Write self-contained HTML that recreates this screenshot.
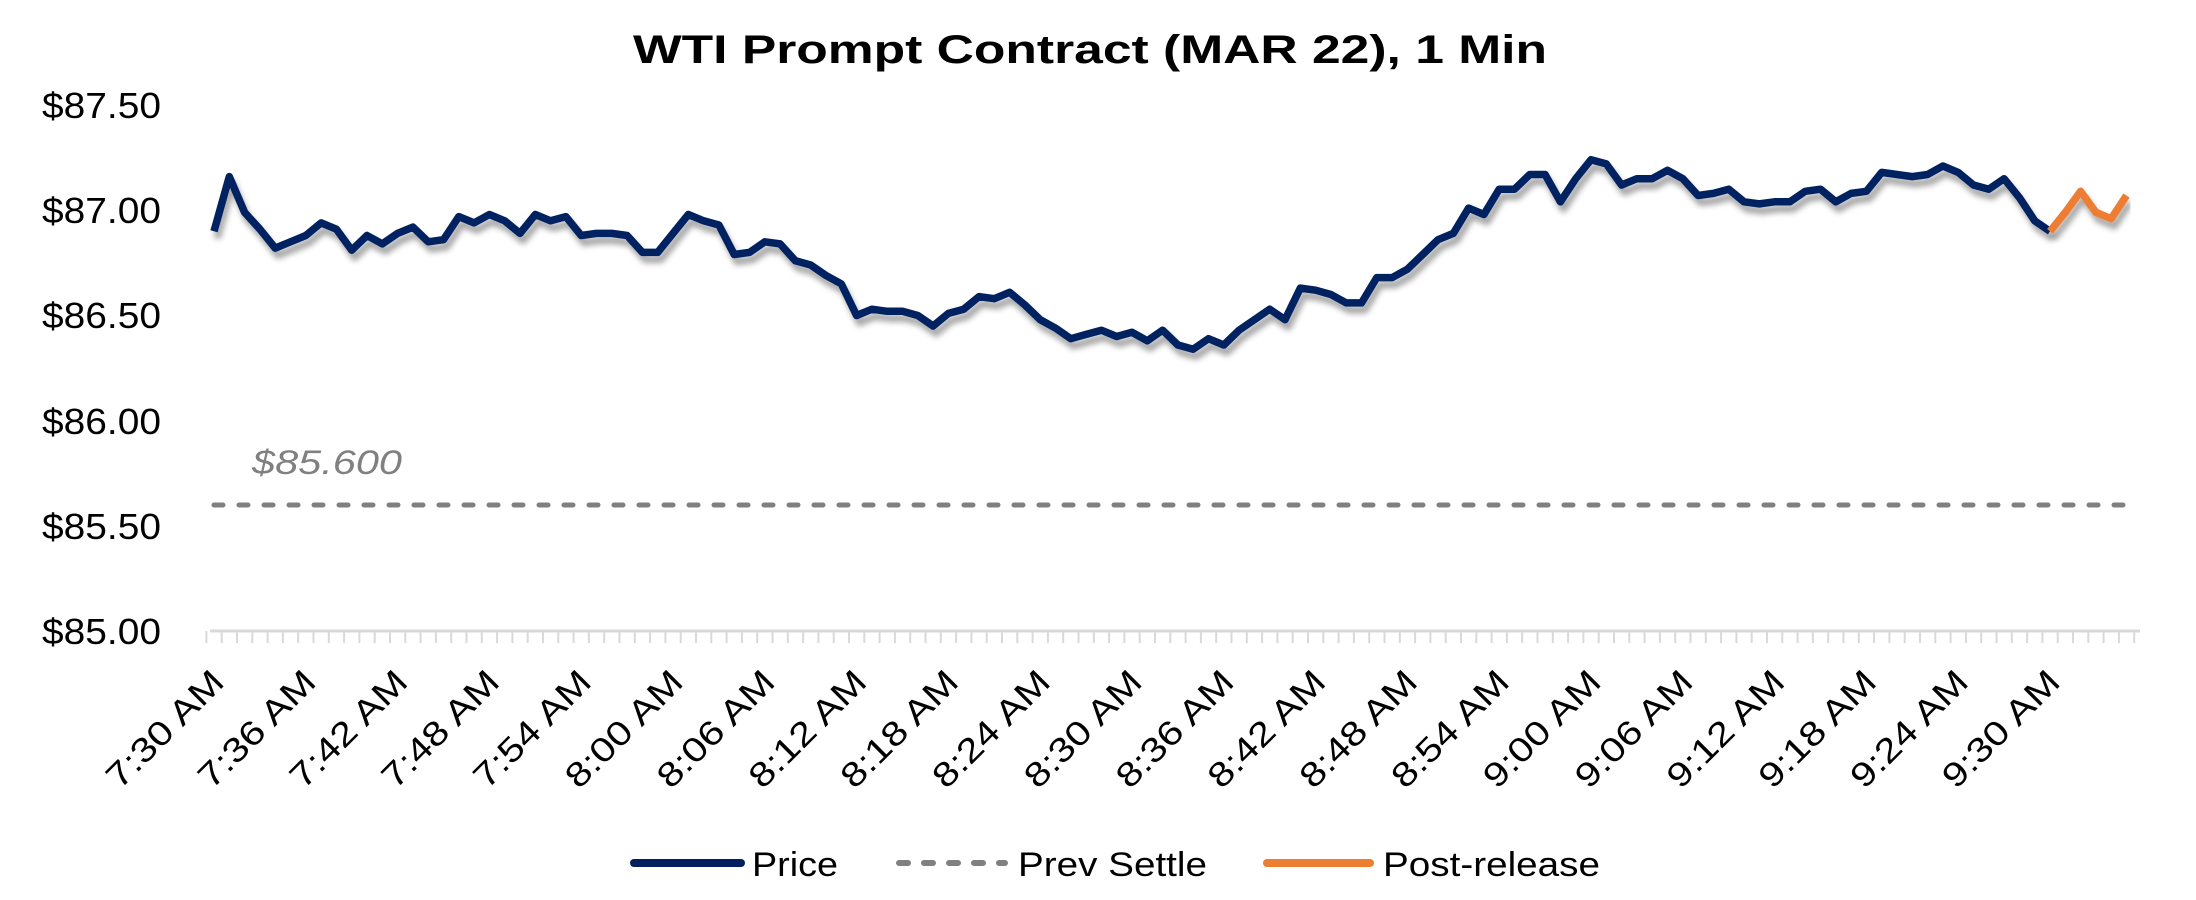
<!DOCTYPE html>
<html><head><meta charset="utf-8"><style>
html,body{margin:0;padding:0;background:#fff;width:2196px;height:900px;overflow:hidden}
svg{display:block}
text{font-family:"Liberation Sans",sans-serif}
</style></head><body>
<svg id="c" width="2196" height="900" viewBox="0 0 2196 900" xmlns="http://www.w3.org/2000/svg">
<defs>
<filter id="sh" x="-5%" y="-20%" width="110%" height="150%">
<feDropShadow dx="3" dy="7" stdDeviation="3" flood-color="#000" flood-opacity="0.35"/>
</filter>
</defs>
<text x="1090" y="63" text-anchor="middle" font-size="40" font-weight="bold" textLength="914" lengthAdjust="spacingAndGlyphs">WTI Prompt Contract (MAR 22), 1 Min</text>
<g font-size="36" text-anchor="end">
<text x="161" y="118" textLength="119" lengthAdjust="spacingAndGlyphs">$87.50</text>
<text x="161" y="223" textLength="119" lengthAdjust="spacingAndGlyphs">$87.00</text>
<text x="161" y="328" textLength="119" lengthAdjust="spacingAndGlyphs">$86.50</text>
<text x="161" y="434" textLength="119" lengthAdjust="spacingAndGlyphs">$86.00</text>
<text x="161" y="539" textLength="119" lengthAdjust="spacingAndGlyphs">$85.50</text>
<text x="161" y="644" textLength="119" lengthAdjust="spacingAndGlyphs">$85.00</text>
</g>
<text x="252" y="474" font-size="34" font-style="italic" fill="#808080" textLength="150" lengthAdjust="spacingAndGlyphs">$85.600</text>
<line x1="214" y1="505" x2="2135" y2="505" stroke="#808080" stroke-width="5" stroke-dasharray="9 16" stroke-linecap="round"/>
<line x1="210" y1="631" x2="2140" y2="631" stroke="#d9d9d9" stroke-width="3"/>
<g id="ticks" stroke="#d9d9d9" stroke-width="2"></g>
<g id="xl" font-size="34"></g>
<g id="lines"></g>
<line x1="634" y1="863" x2="741" y2="863" stroke="#002060" stroke-width="8" stroke-linecap="round"/>
<text x="752" y="876" font-size="34" textLength="86" lengthAdjust="spacingAndGlyphs">Price</text>
<line x1="899" y1="863" x2="1005" y2="863" stroke="#808080" stroke-width="6" stroke-dasharray="9 16" stroke-linecap="round"/>
<text x="1018" y="876" font-size="34" textLength="189" lengthAdjust="spacingAndGlyphs">Prev Settle</text>
<line x1="1267" y1="863" x2="1370" y2="863" stroke="#ed7d31" stroke-width="8" stroke-linecap="round"/>
<text x="1383" y="876" font-size="34" textLength="217" lengthAdjust="spacingAndGlyphs">Post-release</text>
</svg>
<script>
var p=[86.90,87.16,86.99,86.91,86.82,86.85,86.88,86.94,86.91,86.81,86.88,86.84,86.89,86.92,86.85,86.86,86.97,86.94,86.98,86.95,86.89,86.98,86.95,86.97,86.88,86.89,86.89,86.88,86.80,86.80,86.89,86.98,86.95,86.93,86.79,86.80,86.85,86.84,86.76,86.74,86.69,86.65,86.50,86.53,86.52,86.52,86.50,86.45,86.51,86.53,86.59,86.58,86.61,86.55,86.48,86.44,86.39,86.41,86.43,86.40,86.42,86.38,86.43,86.36,86.34,86.39,86.36,86.43,86.48,86.53,86.48,86.63,86.62,86.60,86.56,86.56,86.68,86.68,86.72,86.79,86.86,86.89,87.01,86.98,87.10,87.10,87.17,87.17,87.04,87.15,87.24,87.22,87.12,87.15,87.15,87.19,87.15,87.07,87.08,87.10,87.04,87.03,87.04,87.04,87.09,87.10,87.04,87.08,87.09,87.18,87.17,87.16,87.17,87.21,87.18,87.12,87.10,87.15,87.06,86.95,86.90];
var o=[86.90,86.99,87.09,86.99,86.96,87.07];
function X(m){return 214+15.3*m}function Y(v){return 105+(87.5-v)*210.5}
function pts(a,off){return a.map(function(v,i){return X(i+off).toFixed(1)+","+Y(v).toFixed(1)}).join(" ")}
var g=document.getElementById("lines");
g.innerHTML='<polyline points="'+pts(p,0)+'" fill="none" stroke="#002060" stroke-width="7.5" stroke-linejoin="round" filter="url(#sh)"/>'+
'<polyline points="'+pts(o,120)+'" fill="none" stroke="#ed7d31" stroke-width="7.5" stroke-linejoin="round" filter="url(#sh)"/>';
var t="";for(var i=0;i<=126;i++){var x=X(i)-7.6;t+='<line x1="'+x+'" y1="631" x2="'+x+'" y2="643"/>';}
document.getElementById("ticks").innerHTML=t;
var labs=["7:30","7:36","7:42","7:48","7:54","8:00","8:06","8:12","8:18","8:24","8:30","8:36","8:42","8:48","8:54","9:00","9:06","9:12","9:18","9:24","9:30"];
var s="";labs.forEach(function(l,k){var x=X(k*6)+12,y=684;s+='<text x="'+x+'" y="'+y+'" text-anchor="end" textLength="150" lengthAdjust="spacingAndGlyphs" transform="rotate(-45 '+x+' '+y+')">'+l+' AM</text>';});
document.getElementById("xl").innerHTML=s;
</script>
</body></html>
